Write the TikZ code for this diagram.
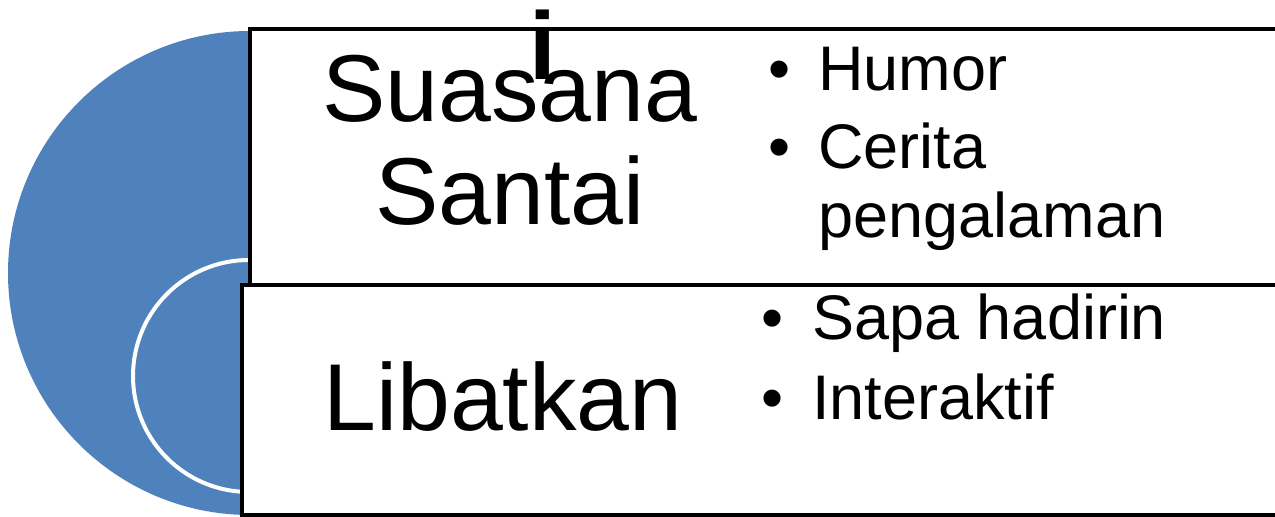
\documentclass[tikz,border=0pt]{standalone}
\usepackage{fontspec}
\setmainfont{Liberation Sans}
\usetikzlibrary{positioning}
\definecolor{discblue}{HTML}{4F81BD}

\begin{document}
\begin{tikzpicture}[x=0.5pt, y=-0.5pt,
  panel/.style={draw=black, line width=2pt, fill=white},
  disc/.style={fill=discblue},
  heading/.style={anchor=base, inner sep=0pt, font=\fontsize{47.5}{52}\selectfont},
  item/.style={anchor=base west, inner sep=0pt, font=\fontsize{31.5}{33}\selectfont},
  bullet/.style={anchor=base, inner sep=0pt, font=\fontsize{31.5}{33}\selectfont}]

  \useasboundingbox (0,0) rectangle (1275,517);

  % blue discs behind the panels
  \fill[disc] (250,273) circle [radius=121pt];
  \draw[disc, draw=white, line width=2pt] (249,376) circle [radius=58pt];

  % the two panels
  \draw[panel] (250,29) rectangle (1290,285);
  \draw[panel] (242,285) rectangle (1290,515);

  % headings
  \node[heading] (suasana) at (510,122) {Suasana};
  \node[heading] (santai) at (510,225) {Santai};
  \node[heading, font=\fontsize{48}{52}\selectfont\bfseries] (extra) at (543,80) {i};
  \node[heading] (libatkan) at (503,431) {Libatkan};

  % bullet lists
  \node[bullet] (b1) at (780,91) {•};
  \node[item] (humor) at (818,91) {Humor};
  \node[bullet] (b2) at (780,169) {•};
  \node[item] (cerita) at (818,169) {Cerita};
  \node[item] (pengalaman) at (818,238) {pengalaman};

  \node[bullet] (b3) at (773,340) {•};
  \node[item] (sapa) at (812,340) {Sapa hadirin};
  \node[bullet] (b4) at (773,420) {•};
  \node[item] (interaktif) at (812,420) {Interaktif};
\end{tikzpicture}
\end{document}
